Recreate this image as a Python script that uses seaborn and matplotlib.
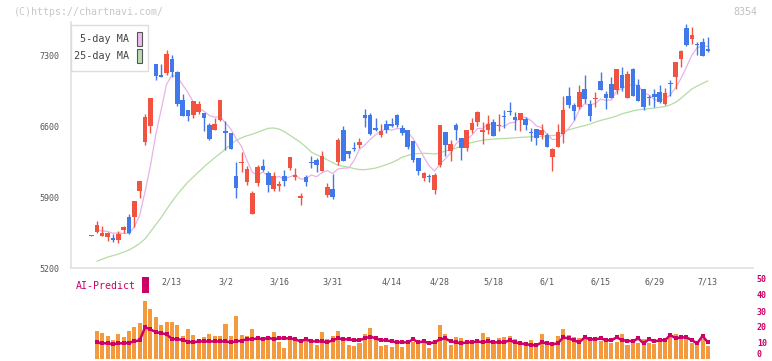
import numpy as np
import pandas as pd
import seaborn as sns
import matplotlib.pyplot as plt
from matplotlib import transforms
from matplotlib.patches import Rectangle

# daily candles (index 0 is the reference day shown before the series)
open_ = [5520, 5556, 5517, 5510, 5494, 5477, 5575, 5710, 5703, 5958,
         6440, 6603, 7212, 7104, 7127, 7261, 7137, 6855, 6754, 6705,
         6741, 6731, 6613, 6557, 6662, 6554, 6531, 6112, 6233, 6047,
         5733, 6037, 6210, 6138, 5978, 6014, 6106, 6184, 6102, 5896,
         6102, 6246, 6269, 6155, 5926, 5985, 6243, 6564, 6358, 6381,
         6417, 6711, 6711, 6577, 6515, 6623, 6623, 6711, 6577, 6564,
         6456, 6289, 6086, 6112, 5968, 6220, 6544, 6351, 6613, 6485,
         6381, 6557, 6636, 6538, 6557, 6642, 6600, 6701, 6750, 6692,
         6662, 6672, 6544, 6574, 6508, 6515, 6292, 6390, 6518, 6898,
         6809, 6793, 6966, 6819, 6865, 7045, 6917, 7016, 6960, 7104,
         6881, 7163, 7006, 6966, 6881, 6917, 6937, 6822, 7025, 7088,
         7264, 7565, 7461, 7408, 7428, 7356]
high = [5525, 5670, 5621, 5562, 5533, 5572, 5621, 5736, 5867, 6063,
        6718, 6878, 7212, 7212, 7349, 7304, 7147, 6917, 6754, 6849,
        6849, 6731, 6629, 6678, 6858, 6652, 6531, 6250, 6348, 6210,
        5962, 6217, 6279, 6155, 6152, 6063, 6171, 6299, 6191, 5945,
        6119, 6309, 6289, 6358, 6043, 6132, 6479, 6603, 6358, 6446,
        6485, 6764, 6731, 6682, 6623, 6662, 6682, 6721, 6610, 6564,
        6456, 6289, 6152, 6132, 6135, 6613, 6544, 6466, 6633, 6485,
        6564, 6682, 6750, 6642, 6711, 6672, 6721, 6760, 6839, 6741,
        6731, 6692, 6584, 6574, 6623, 6534, 6387, 6623, 6898, 6986,
        6826, 7006, 7104, 6858, 6937, 7133, 6947, 7084, 7163, 7182,
        7143, 7173, 7065, 6966, 6908, 6966, 7006, 6976, 7055, 7232,
        7349, 7605, 7575, 7428, 7467, 7477]
low = [5520, 5549, 5517, 5467, 5458, 5451, 5549, 5533, 5605, 5893,
       6410, 6528, 7055, 7081, 7104, 7088, 6800, 6695, 6646, 6675,
       6721, 6548, 6459, 6557, 6646, 6368, 6371, 5890, 6145, 6017,
       5733, 6007, 6161, 5949, 5958, 5958, 6007, 6165, 6066, 5821,
       6007, 6184, 6145, 6155, 5903, 5886, 6217, 6253, 6282, 6351,
       6381, 6587, 6515, 6548, 6489, 6528, 6587, 6593, 6515, 6377,
       6243, 6116, 6057, 6047, 5929, 6194, 6302, 6253, 6459, 6263,
       6351, 6528, 6603, 6426, 6518, 6498, 6548, 6577, 6714, 6564,
       6548, 6564, 6449, 6417, 6476, 6390, 6155, 6390, 6430, 6783,
       6656, 6767, 6826, 6646, 6793, 6960, 6773, 6881, 6921, 6950,
       6872, 6901, 6852, 6763, 6803, 6793, 6832, 6809, 6898, 6966,
       7186, 7392, 7412, 7304, 7294, 7333]
close = [5525, 5631, 5549, 5546, 5477, 5533, 5611, 5549, 5867, 6063,
         6692, 6878, 7097, 7081, 7310, 7137, 6813, 6695, 6695, 6849,
         6819, 6675, 6476, 6623, 6858, 6528, 6371, 5988, 6250, 6181,
         5945, 6201, 6171, 6017, 6112, 6021, 6057, 6299, 6109, 5903,
         6047, 6237, 6214, 6309, 6004, 5899, 6466, 6253, 6322, 6374,
         6446, 6675, 6525, 6557, 6554, 6557, 6603, 6613, 6528, 6390,
         6263, 6155, 6142, 6099, 6122, 6613, 6410, 6426, 6557, 6381,
         6564, 6633, 6741, 6564, 6623, 6498, 6606, 6688, 6737, 6662,
         6731, 6613, 6531, 6479, 6564, 6390, 6374, 6544, 6760, 6803,
         6744, 6937, 6862, 6695, 6878, 6960, 6872, 6881, 7163, 6980,
         7114, 6901, 6852, 6793, 6875, 6891, 6842, 6927, 7012, 7232,
         7340, 7402, 7497, 7395, 7294, 7343]
ma25 = [np.nan, 5270, 5290, 5310, 5325, 5340, 5360, 5380, 5410, 5445,
        5490, 5560, 5630, 5700, 5780, 5855, 5925, 5990, 6050, 6100,
        6150, 6200, 6245, 6290, 6330, 6375, 6420, 6460, 6485, 6505,
        6520, 6540, 6560, 6578, 6582, 6570, 6545, 6510, 6475, 6440,
        6395, 6345, 6318, 6295, 6268, 6240, 6215, 6203, 6195, 6182,
        6172, 6171, 6178, 6187, 6203, 6220, 6240, 6265, 6295, 6310,
        6327, 6330, 6333, 6330, 6325, 6335, 6355, 6370, 6382, 6405,
        6425, 6440, 6450, 6462, 6468, 6472, 6476, 6478, 6481, 6485,
        6489, 6492, 6495, 6497, 6500, 6503, 6507, 6513, 6540, 6562,
        6578, 6592, 6605, 6620, 6640, 6656, 6670, 6684, 6700, 6722,
        6735, 6750, 6760, 6767, 6772, 6777, 6785, 6793, 6810, 6835,
        6875, 6920, 6965, 6995, 7020, 7045]

# lower panel, days 1..115
volume = [17.5, 16.2, 14.4, 11.9, 15.6, 13.8, 17.5, 20.0, 22.5, 36.2,
          31.2, 26.2, 21.2, 23.1, 23.1, 21.2, 14.4, 18.8, 15.0, 11.2,
          13.8, 15.6, 14.4, 14.4, 21.9, 14.4, 26.9, 15.0, 14.4, 18.8,
          13.1, 11.9, 13.8, 16.9, 10.6, 6.9, 12.5, 12.5, 11.9, 12.5,
          10.6, 8.8, 16.9, 12.5, 14.4, 17.5, 11.9, 8.8, 8.1, 10.0,
          15.6, 19.4, 12.5, 8.1, 8.8, 7.5, 9.4, 7.5, 9.4, 10.6,
          9.4, 10.6, 6.9, 9.4, 21.2, 15.6, 8.8, 13.8, 13.1, 10.6,
          9.4, 10.6, 16.2, 13.8, 11.2, 13.1, 13.8, 14.4, 12.5, 10.0,
          9.4, 11.9, 8.8, 15.6, 11.2, 8.8, 14.4, 18.8, 15.0, 13.8,
          13.1, 13.1, 11.9, 12.5, 11.2, 10.6, 10.0, 10.6, 15.6, 8.8,
          10.0, 10.0, 12.5, 10.0, 9.4, 10.6, 11.2, 13.8, 15.6, 12.5,
          13.8, 10.0, 9.4, 12.5, 8.1]
ai_predict = [10.4, 9.8, 9.8, 9.2, 9.8, 9.8, 10.2, 11.0, 11.7, 19.8,
              18.5, 16.8, 16.2, 15.4, 12.6, 12.3, 12.0, 10.8, 10.4, 11.0,
              11.0, 11.0, 11.0, 11.0, 11.0, 10.4, 11.0, 11.5, 12.3, 12.3,
              12.9, 12.3, 13.3, 12.3, 12.9, 12.9, 12.9, 12.3, 11.0, 12.3,
              11.0, 11.0, 11.0, 10.4, 11.7, 12.9, 12.3, 12.3, 11.7, 11.7,
              12.9, 14.0, 12.9, 11.7, 11.7, 11.0, 10.4, 10.4, 10.4, 12.3,
              10.4, 11.0, 9.8, 10.4, 12.3, 12.9, 11.0, 10.4, 9.8, 10.4,
              10.4, 11.0, 10.4, 11.0, 10.4, 10.4, 10.4, 11.7, 10.4, 9.8,
              9.2, 8.8, 8.5, 10.4, 9.8, 9.2, 9.8, 13.5, 12.9, 11.7,
              10.4, 13.5, 12.3, 12.3, 12.9, 11.7, 11.7, 13.5, 11.7, 11.4,
              11.0, 12.9, 9.8, 12.3, 11.0, 11.7, 11.7, 15.0, 12.9, 13.5,
              13.5, 11.7, 9.8, 14.4, 10.4]

date_labels = ['2/13', '3/2', '3/16', '3/31', '4/14', '4/28', '5/18', '6/1', '6/15', '6/29', '7/13']
date_index = [15, 25, 35, 45, 56, 65, 75, 85, 95, 105, 115]
price_ticks = [5200, 5900, 6600, 7300]
volume_ticks = [0, 10, 20, 30, 40, 50]

W, H = 772, 361
UP, DOWN = '#f25240', '#4179ea'
MAGENTA = '#cc0066'
MONO = ['DejaVu Sans Mono', 'DejaVu Sans']

sns.set_theme(style='white')
plt.rcParams['font.family'] = MONO

df = pd.DataFrame({'open': open_, 'high': high, 'low': low, 'close': close, 'ma25': ma25})
df['day'] = np.arange(len(df))
df['ma5'] = df['close'].rolling(5, min_periods=1).mean()
vol = pd.DataFrame({'day': np.arange(1, len(volume) + 1), 'volume': volume, 'ai': ai_predict})


def box(l, t, r, b):
    return [l / W, 1 - b / H, (r - l) / W, (b - t) / H]


fig = plt.figure(figsize=(W / 100, H / 100), dpi=100)
axv = fig.add_axes(box(70.7, 279, 752.7, 359))
ax = fig.add_axes(box(70.7, 22, 752.7, 268.3))
axv.patch.set_visible(False)
ax.patch.set_visible(False)

xlim = (-3.88, 123.36)

# moving averages
ma = df[df['day'] >= 1]
sns.lineplot(data=ma, x='day', y='ma25', ax=ax, color='#b5dca5', lw=0.9, zorder=1)
sns.lineplot(data=ma, x='day', y='ma5', ax=ax, color='#e8b2e8', lw=0.9, zorder=1)

# candles
up = df['close'] >= df['open']
colors = np.where(up, UP, DOWN)
bottom = df[['open', 'close']].min(axis=1)
height = (df['close'] - df['open']).abs().clip(lower=12)
ax.vlines(df['day'], df['low'], df['high'], colors=colors, lw=1.0, zorder=2)
ax.bar(df['day'], height, bottom=bottom, width=0.85, color=colors, lw=0, zorder=3)

ax.set_xlim(*xlim)
ax.set_ylim(5200, 7625)
ax.set_xlabel('')
ax.set_ylabel('')
for s in ['top', 'right']:
    ax.spines[s].set_visible(False)
for s in ['left', 'bottom']:
    ax.spines[s].set_color('#e0e0e0')
    ax.spines[s].set_linewidth(1.2)
ax.set_yticks(price_ticks)
ax.set_yticklabels([str(t) for t in price_ticks])
ax.tick_params(axis='y', direction='out', length=3.6, width=1, color='#e0e0e0',
               labelsize=6, labelcolor='#555555', pad=4.8)
grid_ticks = np.linspace(xlim[0], xlim[1], 12)[1:]
ax.set_xticks(grid_ticks)
ax.set_xticklabels([])
ax.tick_params(axis='x', direction='inout', length=6.5, width=1, color='#e0e0e0')

lab_tr = transforms.blended_transform_factory(ax.transData, fig.transFigure)
for d, lab in zip(date_index, date_labels):
    ax.text(d, 1 - 282 / H, lab, transform=lab_tr, ha='center', va='center',
            fontsize=6, color='#555555', clip_on=False, zorder=10)

# volume panel
sns.barplot(data=vol, x='day', y='volume', ax=axv, native_scale=True, color='#f39a3e',
            saturation=1, width=0.75, errorbar=None, lw=0)
sns.lineplot(data=vol, x='day', y='ai', ax=axv, color=MAGENTA, lw=1.8,
             marker='s', markersize=2.2, markeredgewidth=0)
axv.set_xlim(*xlim)
axv.set_ylim(0, 50)
axv.set_xlabel('')
axv.set_ylabel('')
axv.set_xticks([])
for s in axv.spines.values():
    s.set_visible(False)
axv.yaxis.tick_right()
axv.set_yticks(volume_ticks)
axv.set_yticklabels([str(t) for t in volume_ticks])
axv.tick_params(axis='y', length=0, labelsize=6, labelcolor=MAGENTA, pad=3)
for t in axv.get_yticklabels():
    t.set_fontweight('bold')
axv.get_yticklabels()[0].set_va('bottom')

fig.text(76 / W, 1 - 286 / H, 'AI-Predict', color=MAGENTA, fontsize=7.1,
         ha='left', va='center')
fig.patches.append(Rectangle((142.3 / W, 1 - 293 / H), 6.4 / W, 16 / H,
                             transform=fig.transFigure, fc=MAGENTA, ec='none', zorder=5))

# legend box
fig.patches.append(Rectangle((70.7 / W, 1 - 71.3 / H), 77.3 / W, 46.6 / H,
                             transform=fig.transFigure, fc='white', ec='#dddddd',
                             lw=1, zorder=5))
for label, yc, fc in [('5-day MA', 39, '#ecbcec'), ('25-day MA', 56, '#bcdcb0')]:
    fig.text(129.5 / W, 1 - yc / H, label, ha='right', va='center', fontsize=7.3,
             color='#444444', zorder=6)
    fig.patches.append(Rectangle((136.7 / W, 1 - (yc + 7.2) / H), 5.6 / W, 14.3 / H,
                                 transform=fig.transFigure, fc=fc, ec='#555555',
                                 lw=0.8, zorder=6))

fig.text(14 / W, 1 - 12 / H, '(C)https://chartnavi.com/', fontsize=7.2,
         color='#c8c8c8', ha='left', va='center')
fig.text(757 / W, 1 - 12 / H, '8354', fontsize=7.2, color='#c0c0c0',
         ha='right', va='center')

fig.savefig('out.png', dpi=100)
